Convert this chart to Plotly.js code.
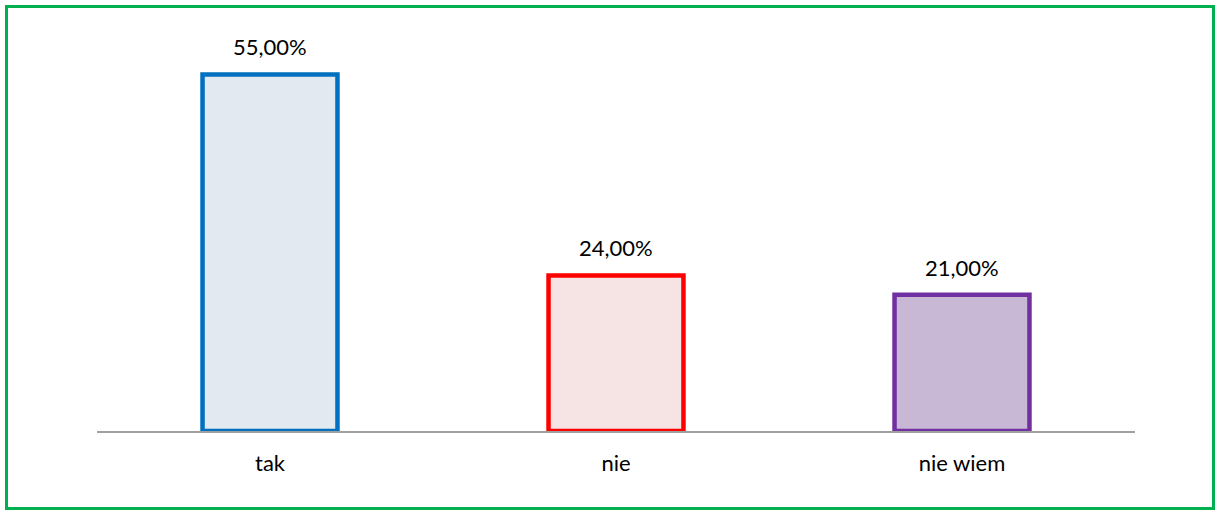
<!DOCTYPE html>
<html>
<head>
<meta charset="utf-8">
<script src="https://cdn.plot.ly/plotly-3.0.1.min.js"></script>
<style>
html,body{margin:0;padding:0;background:#fff;}
#wrap{position:relative;width:1217px;height:511px;}
#chart{position:absolute;left:0;top:0;width:1217px;height:511px;}
#frame{position:absolute;left:5px;top:5px;width:1210px;height:505px;box-sizing:border-box;border:3px solid #00B050;pointer-events:none;}
</style>
</head>
<body>
<div id="wrap"><div id="chart"></div><div id="frame"></div></div>
<script>
const categories = ["tak", "nie", "nie wiem"];
const values = [55, 24, 21];
const labels = ["55,00%", "24,00%", "21,00%"];
const fillColors = ["#E3E9F1", "#F6E3E3", "#C9B8D5"];
const lineColors = ["#0070C0", "#FF0000", "#7030A0"];

const fontSpec = {family: "Lato, 'Open Sans', sans-serif", size: 22, color: "#000"};

const trace = {
  type: "bar",
  x: categories,
  y: values,
  width: 0.39,
  marker: {color: fillColors, line: {color: lineColors, width: 4.5}},
  hoverinfo: "none"
};

const annotations = categories.map((c, i) => ({
  x: c, y: values[i], xref: "x", yref: "y",
  text: labels[i], showarrow: false, yanchor: "bottom", yshift: 12,
  font: fontSpec
}));

const layout = {
  width: 1217, height: 511,
  margin: {l: 97, r: 82, t: 42, b: 80},
  paper_bgcolor: "rgba(0,0,0,0)",
  plot_bgcolor: "rgba(0,0,0,0)",
  showlegend: false,
  bargap: 0.6,
  xaxis: {
    showline: true, linecolor: "#A0A0A0", linewidth: 1.5,
    showgrid: false, zeroline: false,
    ticks: "outside", ticklen: 12, tickcolor: "rgba(0,0,0,0)",
    tickfont: fontSpec,
    fixedrange: true
  },
  yaxis: {
    range: [0, 60], visible: false, showgrid: false, zeroline: false, fixedrange: true
  },
  annotations: annotations
};

Plotly.newPlot("chart", [trace], layout, {displayModeBar: false, staticPlot: true});
</script>
</body>
</html>
